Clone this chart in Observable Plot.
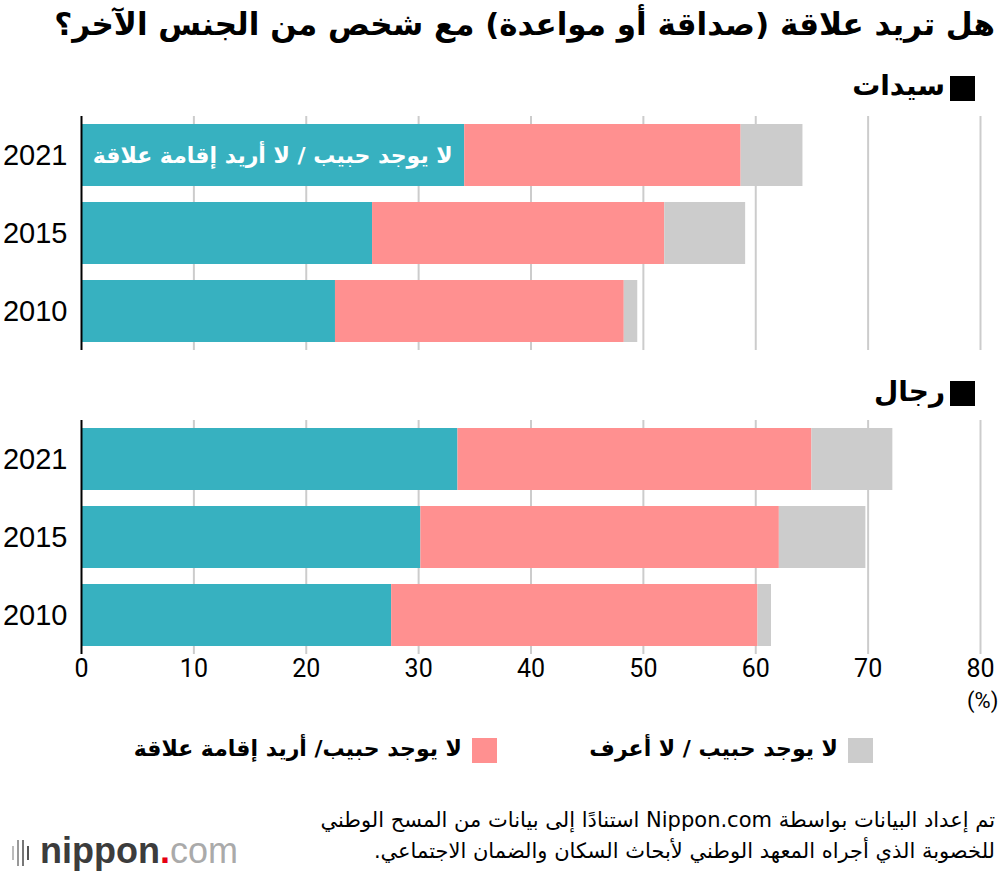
<!DOCTYPE html>
<html><head><meta charset="utf-8">
<script src="https://cdn.jsdelivr.net/npm/d3@7"></script>
<script src="https://cdn.jsdelivr.net/npm/@observablehq/plot@0.6"></script>
<style>
body{margin:0;background:#fff;}
#root{position:relative;width:1000px;height:874px;overflow:hidden;font-family:"DejaVu Sans",sans-serif;color:#000;}
.abs{position:absolute;}
.title{top:6px;right:5px;font-size:31px;font-weight:bold;white-space:nowrap;direction:rtl;}
.head{right:55px;font-size:28px;font-weight:bold;direction:rtl;white-space:nowrap;}
.sq{width:25px;height:25px;background:#000;}
.leg{font-size:22px;font-weight:bold;direction:rtl;white-space:nowrap;}
.cap{right:5px;top:805px;font-size:21px;line-height:31px;direction:rtl;text-align:right;white-space:nowrap;}
.logo{left:40px;top:830px;font-family:"Liberation Sans",Arial,sans-serif;font-size:36px;white-space:nowrap;}
</style></head><body><div id="root"></div>
<script>
const years = ["2021", "2015", "2010"];
const categories = ["noWant", "want", "dontKnow"];
const categoryLabels = ["لا يوجد حبيب / لا أريد إقامة علاقة", "لا يوجد حبيب/ أريد إقامة علاقة", "لا يوجد حبيب / لا أعرف"];
const colors = ["#37b1c0", "#ff9090", "#cccccc"];
const womenNoWant = [34.1, 25.9, 22.6];
const womenWant = [24.6, 26.0, 25.7];
const womenDontKnow = [5.5, 7.2, 1.2];
const menNoWant = [33.5, 30.2, 27.6];
const menWant = [31.5, 31.9, 32.6];
const menDontKnow = [7.2, 7.7, 1.2];
const xTicks = [0, 10, 20, 30, 40, 50, 60, 70, 80];
const gridTicks = [10, 20, 30, 40, 50, 60, 70, 80];
const titleText = "هل تريد علاقة (صداقة أو مواعدة) مع شخص من الجنس الآخر؟";
const panelLabels = ["سيدات", "رجال"];
const unitLabel = "(%)";
const captionLines = ["تم إعداد البيانات بواسطة Nippon.com استنادًا إلى بيانات من المسح الوطني", "للخصوبة الذي أجراه المعهد الوطني لأبحاث السكان والضمان الاجتماعي."];

const root = document.getElementById("root");
function add(html, cls, style){
  const d = document.createElement("div");
  d.className = "abs " + (cls||"");
  if (style) d.setAttribute("style", style);
  d.innerHTML = html;
  root.appendChild(d);
  return d;
}

function panel(series, showX, barLabel){
  const rows = [];
  years.forEach((y, i) => categories.forEach((c, j) => rows.push({year: y, cat: c, value: series[j][i]})));
  const marks = [
    Plot.ruleX(gridTicks, {stroke: "#cccccc", strokeWidth: 2}),
    Plot.barX(rows, Plot.stackX({y: "year", x: "value", fill: "cat", order: categories})),
    Plot.ruleX([0], {stroke: "#000", strokeWidth: 2}),
    Plot.axisY({tickSize: 0, tickPadding: 14, fontSize: 29, fontFamily: "Liberation Sans, Arial, sans-serif", label: null})
  ];
  if (showX) marks.push(Plot.axisX(xTicks, {tickSize: 0, tickPadding: 5, fontSize: 25, fontFamily: "Liberation Sans Narrow, Roboto, sans-serif", label: null}));
  if (barLabel) marks.push(Plot.text([{year: years[0], value: series[0][0], label: barLabel}], {
    x: "value", y: "year", text: "label", textAnchor: "end", dx: -12, fill: "white",
    fontWeight: "bold", fontSize: 22, fontFamily: "DejaVu Sans, sans-serif"
  }));
  return Plot.plot({
    width: 1000, height: showX ? 234 + 40 : 234,
    marginLeft: 81, marginRight: 20, marginTop: 0, marginBottom: showX ? 40 : 0,
    x: {domain: [0, 80], axis: null},
    y: {domain: years, paddingInner: 0.205, paddingOuter: 0.1025, axis: null},
    color: {domain: categories, range: colors},
    style: {background: "transparent", color: "#000", overflow: "visible"},
    marks
  });
}

add(titleText, "title");
add("", "sq", "left:950px;top:76px;");
add(panelLabels[0], "head", "top:69px;");
add("", "sq", "left:950px;top:381px;");
add(panelLabels[1], "head", "top:375px;");

const w = panel([womenNoWant, womenWant, womenDontKnow], false, categoryLabels[0]);
const wd = add("", "", "left:0;top:116px;"); wd.appendChild(w);
const m = panel([menNoWant, menWant, menDontKnow], true, null);
const md = add("", "", "left:0;top:420px;"); md.appendChild(m);

add(unitLabel, "", "left:967px;top:688px;font-family:'Liberation Sans Narrow',Roboto,sans-serif;font-size:22px;");

// legend
add("", "sq", "left:848px;top:738px;background:" + colors[2] + ";");
add(categoryLabels[2], "leg", "right:162px;top:736px;");
add("", "sq", "left:472px;top:738px;background:" + colors[1] + ";");
add(categoryLabels[1], "leg", "right:538px;top:736px;");

add(captionLines.join("<br>"), "cap");

// logo
const bars = [[12,3,"#bbb"],[17,3,"#999"],[22,3,"#777"],[27,3,"#555"]];
bars.forEach(b => add("", "", `left:${b[0]}px;top:${840 + (b[0]===12||b[0]===27?6:0)}px;width:${b[1]-1}px;height:${b[0]===12||b[0]===27?14:26}px;background:${b[2]};`));
add('<span style="font-weight:bold;color:#3c3c3c">nippon</span><span style="color:#e60012;font-weight:bold">.</span><span style="color:#aaa">com</span>', "logo");
</script></body></html>
